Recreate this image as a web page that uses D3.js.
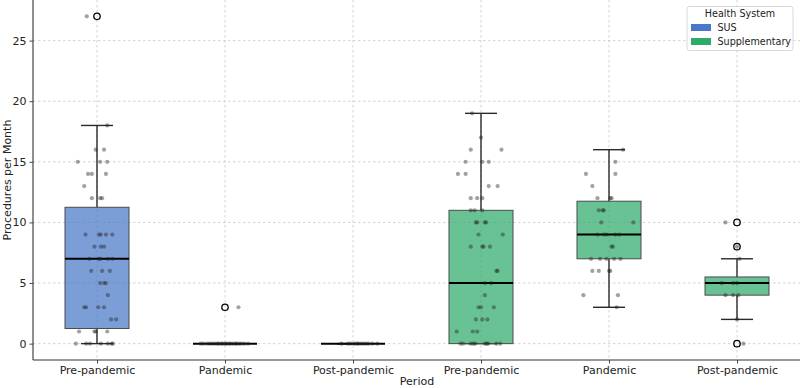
<!DOCTYPE html>
<html>
<head>
<meta charset="utf-8">
<script src="https://cdn.jsdelivr.net/npm/d3@7"></script>
<style>
  html, body { margin: 0; padding: 0; background: #fff; }
  svg { display: block; font-family: "DejaVu Sans", sans-serif; }
</style>
</head>
<body>
<svg id="chart" width="800" height="388"></svg>
<script>
// ---------------- DATA ----------------
const periods = ["Pre-pandemic", "Pandemic", "Post-pandemic"];
const systems = ["SUS", "Supplementary"];
const systemColors = ["#4a78c8", "#2fab69"];
const yTicks = [0, 5, 10, 15, 20, 25];

// box statistics, one entry per (system, period) group, in order
// SUS Pre, SUS Pandemic, SUS Post, Supp Pre, Supp Pandemic, Supp Post
const groupSystem = [0, 0, 0, 1, 1, 1];
const groupPeriod = [0, 1, 2, 0, 1, 2];
const q1 = [1.25, 0, 0, 0, 7, 4];
const median = [7, 0, 0, 5, 9, 5];
const q3 = [11.25, 0, 0, 11, 11.75, 5.5];
const whiskerLow = [0, 0, 0, 0, 3, 2];
const whiskerHigh = [18, 0, 0, 19, 16, 7];
const outliers = [[27], [3], [], [], [], [10, 8, 0]];

// monthly observations [value, jitter offset in category units]
const susPre = [
  [27,-0.08],[18,0.08],[16,-0.01],[16,0.055],[15,-0.15],[15,0.025],[15,0.08],
  [14,-0.07],[14,-0.04],[14,0.07],[13,-0.10],[12,-0.04],[12,0.025],[12,0.04],
  [9,-0.09],[9,0.015],[9,0.03],[9,0.07],[9,0.12],[8,-0.02],[8,0.03],[8,0.055],
  [7,-0.06],[7,0.015],[7,0.025],[7,0.085],[7,0.12],[6,-0.045],[6,0.04],[6,0.10],
  [5,0.025],[5,0.055],[5,0.07],[4,0.085],[3,-0.10],[3,-0.085],[3,0.01],[3,0.055],
  [2,0.11],[2,0.15],[1,-0.14],[1,-0.02],[1,-0.01],[1,0.08],
  [0,-0.165],[0,-0.085],[0,-0.055],[0,0.03],[0,0.085],[0,0.115],[0,0.125]
];
const susPan = [
  [3,0.105],
  [0,-0.19],[0,-0.17],[0,-0.14],[0,-0.12],[0,-0.10],[0,-0.08],[0,-0.06],[0,-0.05],
  [0,-0.03],[0,-0.02],[0,0.0],[0,0.01],[0,0.03],[0,0.04],[0,0.06],[0,0.08],
  [0,0.09],[0,0.11],[0,0.13],[0,0.15],[0,0.18]
];
const susPost = [
  [0,-0.09],[0,-0.04],[0,-0.02],[0,0.01],[0,0.03],[0,0.04],[0,0.06],[0,0.08],
  [0,0.10],[0,0.12],[0,0.15],[0,0.19]
];
const supPre = [
  [19,-0.07],[17,0.0],[16,-0.08],[16,0.16],[15,-0.12],[15,0.01],[15,0.06],
  [14,-0.18],[14,-0.12],[13,0.06],[13,0.13],[12,-0.08],[12,-0.03],[12,0.01],
  [11,-0.08],[11,-0.05],[11,0.01],[10,-0.04],[10,-0.03],[10,0.03],[10,0.04],
  [9,-0.02],[9,0.17],[8,-0.08],[8,0.01],[8,0.02],[8,0.07],[6,0.12],[6,0.13],
  [5,0.03],[5,0.08],[4,0.03],[3,-0.02],[3,0.0],[3,0.10],[2,-0.04],[2,0.01],[2,0.05],
  [1,-0.19],[1,-0.065],[1,-0.03],
  [0,-0.16],[0,-0.14],[0,-0.08],[0,-0.06],[0,-0.045],[0,0.03],[0,0.045],[0,0.055],
  [0,0.12],[0,0.15]
];
const supPan = [
  [16,0.11],[15,0.05],[14,-0.18],[14,0.05],[13,-0.13],[12,-0.09],[12,0.01],[12,0.02],
  [11,-0.08],[11,-0.05],[11,-0.04],[10,-0.06],[10,0.19],[9,-0.09],[9,-0.04],[9,-0.02],
  [9,0.05],[9,0.08],[8,0.02],[8,0.03],[7,-0.14],[7,-0.07],[7,-0.02],[7,0.04],[7,0.09],
  [6,-0.13],[6,-0.08],[6,0.0],[6,0.01],[4,-0.20],[4,0.07],[3,0.06]
];
const supPost = [
  [10,-0.09],[8,0.0],[7,0.02],[5,-0.12],[5,-0.03],[5,0.0],[4,-0.09],[4,-0.03],[4,0.01],
  [2,0.0],[0,0.05]
];
const groupPoints = [susPre, susPan, susPost, supPre, supPan, supPost];

// ---------------- LAYOUT ----------------
const W = 800, H = 388;
const plot = { left: 33, right: 801, top: 0, bottom: 360 };
const svg = d3.select("#chart");

const nGroups = groupSystem.length;
const x = d3.scaleLinear().domain([-0.5, nGroups - 0.5]).range([plot.left, plot.right]);
const y = d3.scaleLinear().domain([-1.35, 28.35]).range([plot.bottom, plot.top]);
const boxHalf = 0.25, capHalf = 0.125;

// grid
const grid = svg.append("g");
grid.selectAll("line.hy").data(yTicks).join("line")
  .attr("x1", plot.left).attr("x2", plot.right)
  .attr("y1", d => y(d)).attr("y2", d => y(d))
  .attr("stroke", "#c8c8c8").attr("stroke-width", 0.8).attr("stroke-dasharray", "2.5,2.5");
grid.selectAll("line.vx").data(d3.range(nGroups)).join("line")
  .attr("x1", d => x(d)).attr("x2", d => x(d))
  .attr("y1", plot.top).attr("y2", plot.bottom)
  .attr("stroke", "#c8c8c8").attr("stroke-width", 0.8).attr("stroke-dasharray", "2.5,2.5");

// boxes
const boxes = svg.append("g");
d3.range(nGroups).forEach(i => {
  const cx = i;
  const col = systemColors[groupSystem[i]];
  const g = boxes.append("g");
  // whiskers
  g.append("line").attr("x1", x(cx)).attr("x2", x(cx))
    .attr("y1", y(q3[i])).attr("y2", y(whiskerHigh[i]))
    .attr("stroke", "#2a2a2a").attr("stroke-width", 1.4);
  g.append("line").attr("x1", x(cx)).attr("x2", x(cx))
    .attr("y1", y(q1[i])).attr("y2", y(whiskerLow[i]))
    .attr("stroke", "#2a2a2a").attr("stroke-width", 1.4);
  [whiskerLow[i], whiskerHigh[i]].forEach(v => {
    g.append("line").attr("x1", x(cx - capHalf)).attr("x2", x(cx + capHalf))
      .attr("y1", y(v)).attr("y2", y(v))
      .attr("stroke", "#2a2a2a").attr("stroke-width", 1.4);
  });
  // box
  g.append("rect")
    .attr("x", x(cx - boxHalf)).attr("width", x(cx + boxHalf) - x(cx - boxHalf))
    .attr("y", y(q3[i])).attr("height", Math.max(0, y(q1[i]) - y(q3[i])))
    .attr("fill", col).attr("fill-opacity", 0.72)
    .attr("stroke", "#4a4a4a").attr("stroke-width", 1);
  // median
  g.append("line").attr("x1", x(cx - boxHalf)).attr("x2", x(cx + boxHalf))
    .attr("y1", y(median[i])).attr("y2", y(median[i]))
    .attr("stroke", "#000").attr("stroke-width", 2);
  // outliers
  g.selectAll("circle.out").data(outliers[i]).join("circle")
    .attr("cx", x(cx)).attr("cy", d => y(d)).attr("r", 3.2)
    .attr("fill", "none").attr("stroke", "#000").attr("stroke-width", 1.3);
});

// strip points
const pts = svg.append("g");
d3.range(nGroups).forEach(i => {
  pts.selectAll(null).data(groupPoints[i]).join("circle")
    .attr("cx", d => x(i + d[1])).attr("cy", d => y(d[0])).attr("r", 2.1)
    .attr("fill", "#222").attr("fill-opacity", 0.42);
});

// axes
const axisColor = "#333";
const yAxis = svg.append("g").attr("transform", `translate(${plot.left},0)`)
  .call(d3.axisLeft(y).tickValues(yTicks).tickSize(3.5).tickPadding(3));
const xAxis = svg.append("g").attr("transform", `translate(0,${plot.bottom})`)
  .call(d3.axisBottom(x).tickValues(d3.range(nGroups)).tickSize(3.5).tickPadding(3)
    .tickFormat(i => periods[groupPeriod[i]]));
[yAxis, xAxis].forEach(a => {
  a.select(".domain").attr("stroke", axisColor).attr("stroke-width", 1.1);
  a.selectAll(".tick line").attr("stroke", axisColor).attr("stroke-width", 0.9);
  a.selectAll(".tick text").attr("fill", "#222").attr("font-size", 11)
    .attr("font-family", "DejaVu Sans, sans-serif");
});
// remove domain end ticks overshoot (outer ticks)
yAxis.select(".domain").attr("d", `M0,${plot.top}V${plot.bottom}`);
xAxis.select(".domain").attr("d", `M${plot.left},0H${plot.right}`);

// axis labels
svg.append("text").attr("x", (plot.left + plot.right) / 2).attr("y", 385)
  .attr("text-anchor", "middle").attr("font-size", 11).attr("fill", "#222").text("Period");
svg.append("text").attr("transform", `translate(11,${(plot.top + plot.bottom) / 2}) rotate(-90)`)
  .attr("text-anchor", "middle").attr("font-size", 11).attr("fill", "#222")
  .text("Procedures per Month");

// legend
const lg = svg.append("g");
lg.append("rect").attr("x", 687).attr("y", 6.5).attr("width", 106).attr("height", 44)
  .attr("rx", 2.5).attr("fill", "#fff").attr("fill-opacity", 0.85)
  .attr("stroke", "#d4d4d4").attr("stroke-width", 0.9);
lg.append("text").attr("x", 740).attr("y", 17).attr("text-anchor", "middle")
  .attr("font-size", 9.6).attr("fill", "#222").text("Health System");
systems.forEach((s, k) => {
  lg.append("rect").attr("x", 691).attr("y", 24 + k * 14).attr("width", 20).attr("height", 7)
    .attr("fill", systemColors[k]);
  lg.append("text").attr("x", 717.5).attr("y", 31 + k * 14)
    .attr("font-size", 9.6).attr("fill", "#222").text(s);
});
</script>
</body>
</html>
